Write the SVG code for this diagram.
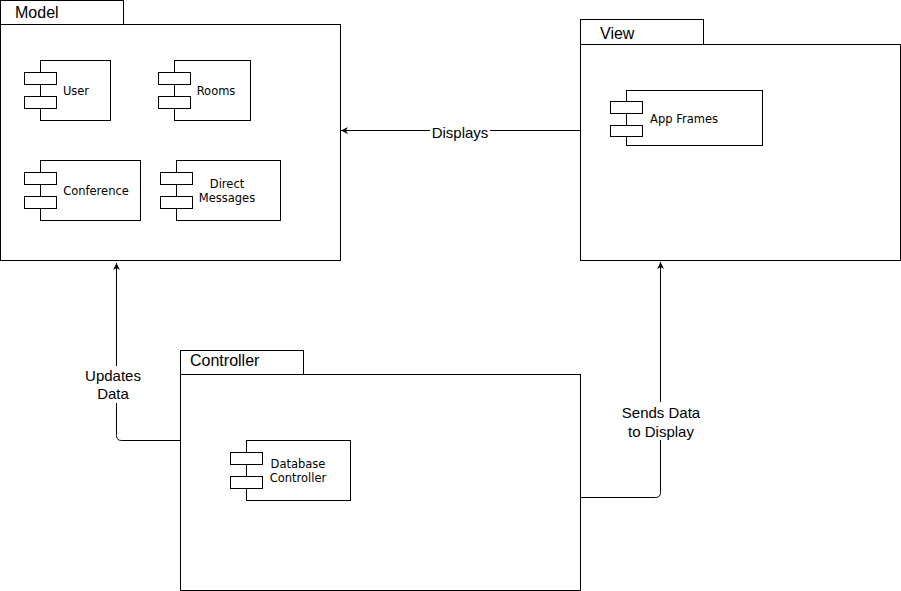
<svg xmlns="http://www.w3.org/2000/svg" width="901" height="591" viewBox="0 0 901 591">
  <style>
    .pkg { fill: #ffffff; stroke: #000000; stroke-width: 1; }
    .box { fill: #ffffff; stroke: #000000; stroke-width: 1; }
    .pkg-label { font-family: "Liberation Sans", Arial, sans-serif; font-size: 16px; fill: #000000; }
    .comp-label { font-family: "DejaVu Sans", Verdana, sans-serif; font-size: 11.5px; fill: #000000; text-anchor: middle; }
    .edge { fill: none; stroke: #000000; stroke-width: 1; }
    .edge-label { font-family: "Liberation Sans", Arial, sans-serif; font-size: 15px; fill: #000000; text-anchor: middle; }
    .label-bg { fill: #ffffff; stroke: none; }
  </style>
  <defs>
    <marker id="arrow" viewBox="0 0 10 10" refX="10" refY="5" markerWidth="7" markerHeight="7" markerUnits="userSpaceOnUse" orient="auto">
      <path d="M0,0 L10,5 L0,10 L3,5 Z" fill="#000000"/>
    </marker>
  </defs>

  <rect x="0" y="0" width="901" height="591" fill="#ffffff"/>

  <!-- Model package -->
  <g id="model">
    <rect class="pkg" x="0.5" y="0.5" width="123" height="24"/>
    <rect class="pkg" x="0.5" y="24.5" width="340" height="236"/>
    <text class="pkg-label" x="15" y="18">Model</text>
    <g id="user">
      <rect class="box" x="40.5" y="60.5" width="70" height="60"/>
      <rect class="box" x="24.5" y="72.5" width="32" height="12"/>
      <rect class="box" x="24.5" y="96.5" width="32" height="12"/>
      <text class="comp-label" x="76" y="94.5">User</text>
    </g>
    <g id="rooms">
      <rect class="box" x="174.5" y="60.5" width="76" height="60"/>
      <rect class="box" x="158.5" y="72.5" width="32" height="12"/>
      <rect class="box" x="158.5" y="96.5" width="32" height="12"/>
      <text class="comp-label" x="216" y="94.5">Rooms</text>
    </g>
    <g id="conference">
      <rect class="box" x="40.5" y="160.5" width="100" height="60"/>
      <rect class="box" x="24.5" y="172.5" width="32" height="12"/>
      <rect class="box" x="24.5" y="196.5" width="32" height="12"/>
      <text class="comp-label" x="96" y="194.5">Conference</text>
    </g>
    <g id="direct-messages">
      <rect class="box" x="176.5" y="160.5" width="104" height="60"/>
      <rect class="box" x="160.5" y="172.5" width="32" height="12"/>
      <rect class="box" x="160.5" y="196.5" width="32" height="12"/>
      <text class="comp-label" x="227" y="188">Direct</text>
      <text class="comp-label" x="227" y="202">Messages</text>
    </g>
  </g>

  <!-- View package -->
  <g id="view">
    <rect class="pkg" x="580.5" y="19.5" width="123" height="25"/>
    <rect class="pkg" x="580.5" y="44.5" width="320" height="216"/>
    <text class="pkg-label" x="600" y="39">View</text>
    <g id="app-frames">
      <rect class="box" x="626.5" y="90.5" width="136" height="55"/>
      <rect class="box" x="610.5" y="101.5" width="32" height="12"/>
      <rect class="box" x="610.5" y="125.5" width="32" height="11"/>
      <text class="comp-label" x="684" y="122.5">App Frames</text>
    </g>
  </g>

  <!-- Controller package -->
  <g id="controller">
    <rect class="pkg" x="180.5" y="350.5" width="123" height="24"/>
    <rect class="pkg" x="180.5" y="374.5" width="400" height="216"/>
    <text class="pkg-label" x="190" y="366">Controller</text>
    <g id="database-controller">
      <rect class="box" x="246.5" y="440.5" width="104" height="60"/>
      <rect class="box" x="230.5" y="452.5" width="32" height="12"/>
      <rect class="box" x="230.5" y="476.5" width="32" height="12"/>
      <text class="comp-label" x="298" y="468">Database</text>
      <text class="comp-label" x="298" y="481.5">Controller</text>
    </g>
  </g>

  <!-- Connectors -->
  <g id="connectors">
    <path class="edge" d="M580,130.5 L341,130.5" marker-end="url(#arrow)"/>
    <rect class="label-bg" x="430" y="122" width="60" height="18"/>
    <text class="edge-label" x="460" y="137.5">Displays</text>

    <path class="edge" d="M180,440.5 L121.5,440.5 Q116.5,440.5 116.5,435.5 L116.5,263" marker-end="url(#arrow)"/>
    <rect class="label-bg" x="84" y="366" width="60" height="37"/>
    <text class="edge-label" x="113" y="381">Updates</text>
    <text class="edge-label" x="113" y="399">Data</text>

    <path class="edge" d="M581,497.5 L655.5,497.5 Q660.5,497.5 660.5,492.5 L660.5,262" marker-end="url(#arrow)"/>
    <rect class="label-bg" x="620" y="402" width="82" height="38"/>
    <text class="edge-label" x="661" y="418">Sends Data</text>
    <text class="edge-label" x="661" y="436.5">to Display</text>
  </g>
</svg>
